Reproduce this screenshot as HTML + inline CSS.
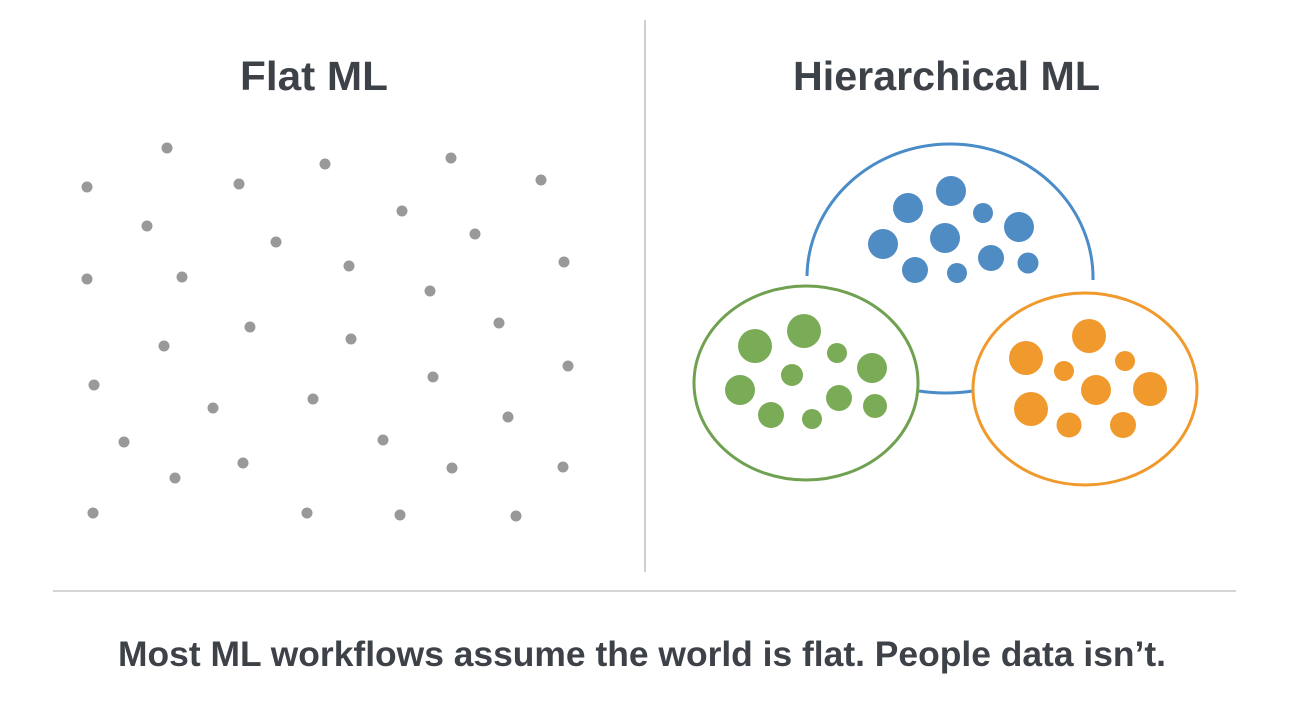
<!DOCTYPE html>
<html><head><meta charset="utf-8"><style>
html,body{margin:0;padding:0;background:#fff;}
svg{display:block;}
text{font-family:"Liberation Sans",sans-serif;font-weight:bold;fill:#3d4148;}
</style></head><body>
<svg width="1295" height="705" viewBox="0 0 1295 705" xmlns="http://www.w3.org/2000/svg">
<line x1="645" y1="20" x2="645" y2="572" stroke="#cfcfcf" stroke-width="2"/>
<line x1="53" y1="591" x2="1236" y2="591" stroke="#d5d5d5" stroke-width="2"/>
<text x="240" y="90" font-size="41" textLength="148" lengthAdjust="spacingAndGlyphs">Flat ML</text>
<text x="793" y="90" font-size="41" textLength="307" lengthAdjust="spacingAndGlyphs">Hierarchical ML</text>
<text x="118" y="666" font-size="35" textLength="1048" lengthAdjust="spacingAndGlyphs">Most ML workflows assume the world is flat. People data isn’t.</text>
<g fill="#999">
<circle cx="167" cy="148" r="5.5"/><circle cx="87" cy="187" r="5.5"/><circle cx="239" cy="184" r="5.5"/><circle cx="325" cy="164" r="5.5"/><circle cx="451" cy="158" r="5.5"/><circle cx="541" cy="180" r="5.5"/><circle cx="147" cy="226" r="5.5"/><circle cx="276" cy="242" r="5.5"/><circle cx="402" cy="211" r="5.5"/><circle cx="475" cy="234" r="5.5"/><circle cx="87" cy="279" r="5.5"/><circle cx="182" cy="277" r="5.5"/><circle cx="349" cy="266" r="5.5"/><circle cx="430" cy="291" r="5.5"/><circle cx="564" cy="262" r="5.5"/><circle cx="164" cy="346" r="5.5"/><circle cx="250" cy="327" r="5.5"/><circle cx="351" cy="339" r="5.5"/><circle cx="499" cy="323" r="5.5"/><circle cx="94" cy="385" r="5.5"/><circle cx="213" cy="408" r="5.5"/><circle cx="313" cy="399" r="5.5"/><circle cx="433" cy="377" r="5.5"/><circle cx="568" cy="366" r="5.5"/><circle cx="124" cy="442" r="5.5"/><circle cx="243" cy="463" r="5.5"/><circle cx="383" cy="440" r="5.5"/><circle cx="508" cy="417" r="5.5"/><circle cx="175" cy="478" r="5.5"/><circle cx="452" cy="468" r="5.5"/><circle cx="563" cy="467" r="5.5"/><circle cx="93" cy="513" r="5.5"/><circle cx="307" cy="513" r="5.5"/><circle cx="400" cy="515" r="5.5"/><circle cx="516" cy="516" r="5.5"/>
</g>
<path d="M807 276 A143 134 0 0 1 1093 280" fill="none" stroke="#4a8cc7" stroke-width="3"/>
<path d="M919 391 Q946 395 973 391" fill="none" stroke="#4a8cc7" stroke-width="3"/>
<ellipse cx="806" cy="383" rx="112" ry="97" fill="none" stroke="#6fa150" stroke-width="3"/>
<ellipse cx="1085" cy="389" rx="112" ry="96" fill="none" stroke="#f0992c" stroke-width="3"/>
<g fill="#4f8cc4">
<circle cx="908" cy="208" r="15"/><circle cx="951" cy="191" r="15"/><circle cx="983" cy="213" r="10"/><circle cx="1019" cy="227" r="15"/><circle cx="883" cy="244" r="15"/><circle cx="945" cy="238" r="15"/><circle cx="991" cy="258" r="13"/><circle cx="915" cy="270" r="13"/><circle cx="957" cy="273" r="10"/><circle cx="1028" cy="263" r="10.5"/>
</g>
<g fill="#7aab56">
<circle cx="755" cy="346" r="17"/><circle cx="804" cy="331" r="17"/><circle cx="837" cy="353" r="10"/><circle cx="872" cy="368" r="15"/><circle cx="740" cy="390" r="15"/><circle cx="792" cy="375" r="11"/><circle cx="839" cy="398" r="13"/><circle cx="771" cy="415" r="13"/><circle cx="812" cy="419" r="10"/><circle cx="875" cy="406" r="12"/>
</g>
<g fill="#f0992c">
<circle cx="1089" cy="336" r="17"/><circle cx="1026" cy="358" r="17"/><circle cx="1125" cy="361" r="10"/><circle cx="1064" cy="371" r="10"/><circle cx="1150" cy="389" r="17"/><circle cx="1096" cy="390" r="15"/><circle cx="1031" cy="409" r="17"/><circle cx="1069" cy="425" r="12.5"/><circle cx="1123" cy="425" r="13"/>
</g>
</svg>
</body></html>
